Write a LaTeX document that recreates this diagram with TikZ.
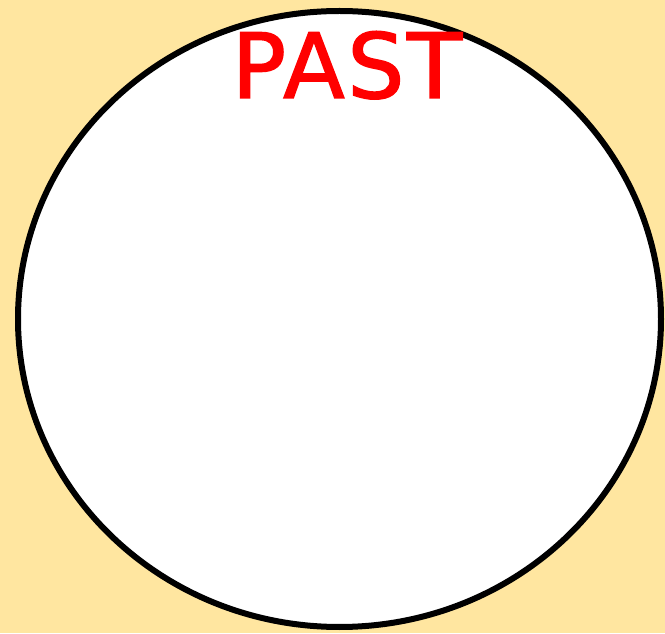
\documentclass[tikz,border=0pt]{standalone}
\usepackage{fontspec}
\usetikzlibrary{shapes.geometric}
\newfontfamily\pastfont[FakeBold=1.6,LetterSpace=3]{DejaVu Sans}
\definecolor{bgyellow}{RGB}{255,230,160}
\definecolor{pastred}{RGB}{255,0,0}
\begin{document}
\begin{tikzpicture}[x=1pt,y=1pt,
  ring/.style={draw=black,line width=6pt,fill=white},
  titletext/.style={text=pastred,font=\pastfont\fontsize{90}{90}\selectfont,inner sep=0pt,anchor=base}]
\fill[bgyellow] (0,0) rectangle (665,633);
\useasboundingbox (0,0) rectangle (665,633);
\node[ring,ellipse,minimum width=643pt,minimum height=616pt,inner sep=0pt] (circ) at (339.5,314) {};
\node[titletext] (title) at (347,535) {PAST};
\end{tikzpicture}
\end{document}
